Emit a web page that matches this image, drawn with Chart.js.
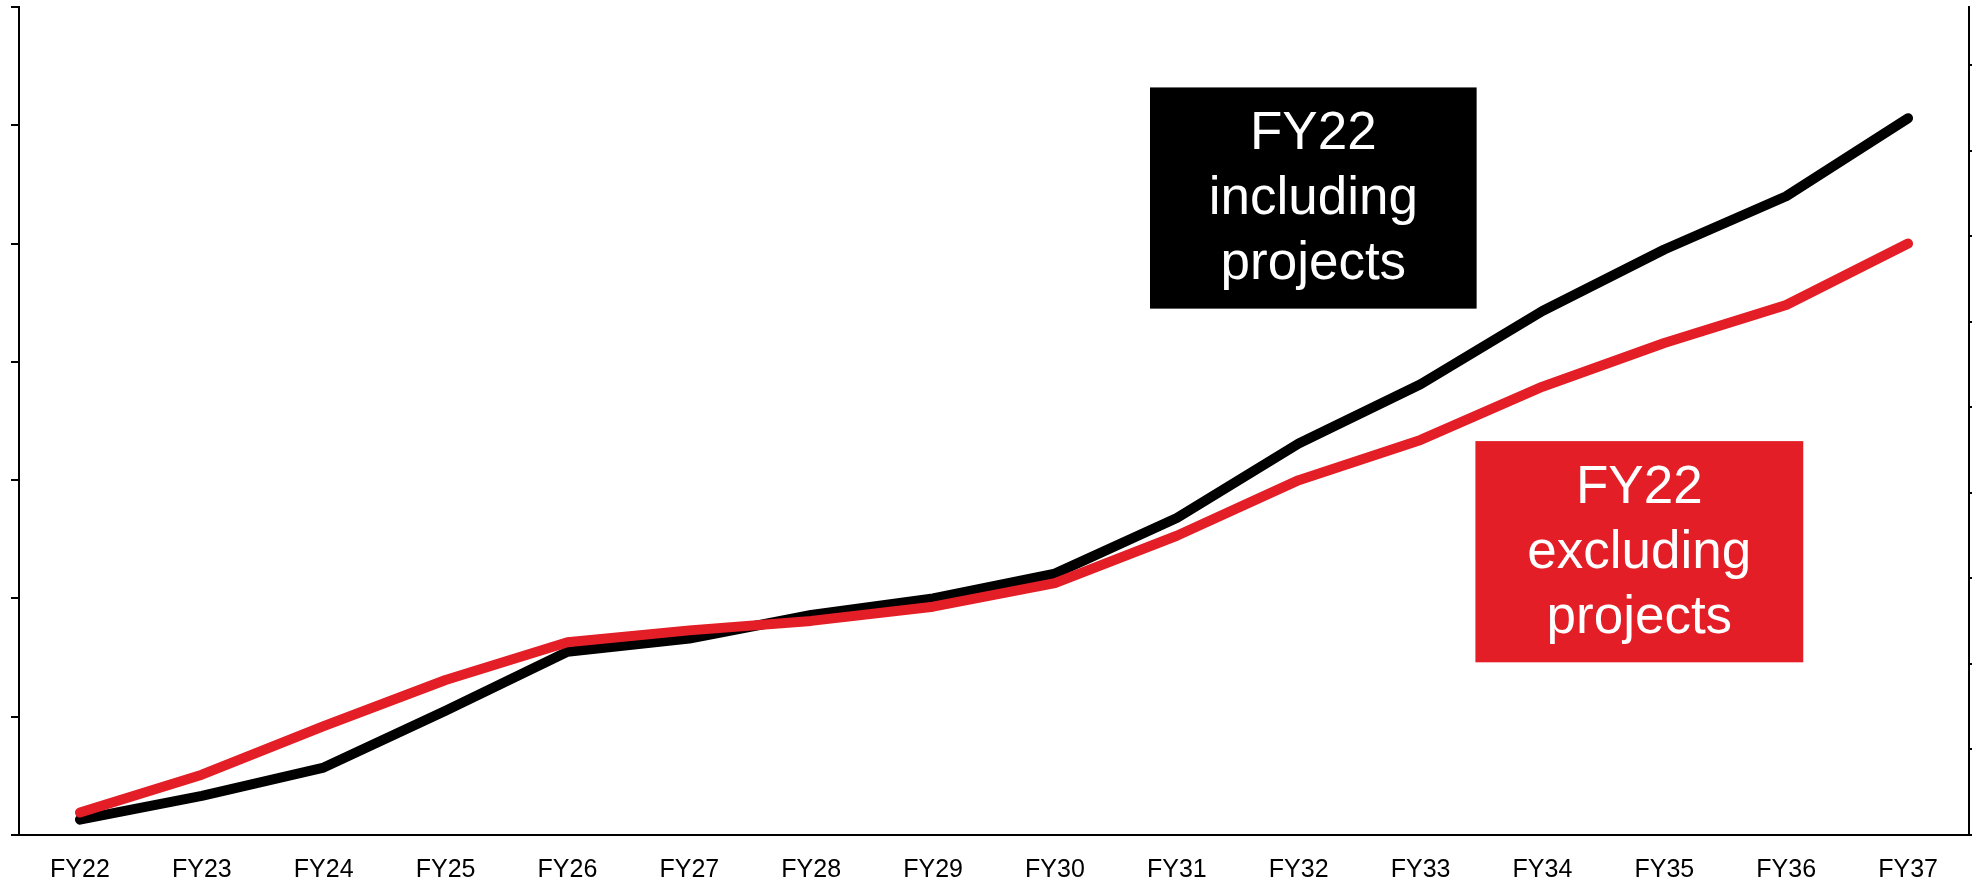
<!DOCTYPE html>
<html>
<head>
<meta charset="utf-8">
<script src="https://cdn.jsdelivr.net/npm/chart.js@4"></script>
<style>
  html, body { margin: 0; padding: 0; background: #fff; overflow: hidden; }
  #wrap { width: 1972px; height: 880px; position: relative; }
</style>
</head>
<body>
<div id="wrap"><canvas id="chart"></canvas></div>
<script>
// data (left axis units, one tick = 1)
const years = ["FY22", "FY23", "FY24", "FY25", "FY26", "FY27", "FY28", "FY29",
  "FY30", "FY31", "FY32", "FY33", "FY34", "FY35", "FY36", "FY37"];
const inclProjects = [0.13, 0.33, 0.57, 1.05, 1.55, 1.66, 1.86, 2.0,
  2.21, 2.68, 3.31, 3.81, 4.43, 4.95, 5.40, 6.06];
const exclProjects = [0.19, 0.51, 0.92, 1.31, 1.63, 1.73, 1.81, 1.93,
  2.13, 2.53, 3.0, 3.34, 3.79, 4.16, 4.48, 5.0];

// label boxes, placed in data units (x = category index, y = left axis)
const boxTexts = [["FY22", "including", "projects"], ["FY22", "excluding", "projects"]];
const boxColors = ["#000000", "#e31e26"];
const boxX = [[8.78, 11.46], [11.45, 14.14]];
const boxY = [[6.32, 4.45], [3.33, 1.46]];

const RED = "#e31e26";
const FONT = '"Liberation Sans", Arial, sans-serif';

// draws the two coloured text boxes
const boxPlugin = {
  id: "boxes",
  afterDraw(chart) {
    const c = chart.ctx;
    const xs = chart.scales.x, ys = chart.scales.y;
    boxTexts.forEach((lines, i) => {
      const x1 = xs.getPixelForValue(boxX[i][0]);
      const x2 = xs.getPixelForValue(boxX[i][1]);
      const y1 = ys.getPixelForValue(boxY[i][0]);
      const y2 = ys.getPixelForValue(boxY[i][1]);
      c.save();
      c.fillStyle = boxColors[i];
      c.fillRect(x1, y1, x2 - x1, y2 - y1);
      c.fillStyle = "#fff";
      c.font = "53px " + FONT;
      c.textAlign = "center";
      c.textBaseline = "alphabetic";
      const cx = (x1 + x2) / 2, cy = (y1 + y2) / 2;
      lines.forEach((t, j) => {
        c.fillText(t, cx, cy + (j - 1) * 65 + 16);
      });
      c.restore();
    });
  }
};

const yAxisBase = {
  grid: { drawOnChartArea: false, drawTicks: true, tickLength: 8, color: "#000", lineWidth: 2 },
  border: { display: true, color: "#000", width: 2 },
  ticks: { display: false, stepSize: 1 }
};

new Chart(document.getElementById("chart"), {
  type: "line",
  data: {
    labels: years,
    datasets: [
      {
        label: "FY22 including projects",
        data: inclProjects,
        borderColor: "#000",
        borderWidth: 10,
        order: 2
      },
      {
        label: "FY22 excluding projects",
        data: exclProjects,
        borderColor: RED,
        borderWidth: 10,
        order: 1
      }
    ]
  },
  options: {
    responsive: true,
    maintainAspectRatio: false,
    animation: false,
    layout: { padding: { top: 7, left: 0, right: 0, bottom: 0 } },
    elements: {
      point: { radius: 0, hoverRadius: 0 },
      line: { tension: 0, borderCapStyle: "round", borderJoinStyle: "round", fill: false }
    },
    plugins: {
      legend: { display: false },
      tooltip: { enabled: false },
      title: { display: false }
    },
    scales: {
      x: {
        offset: true,
        grid: { display: false, drawTicks: false },
        border: { display: true, color: "#000", width: 2 },
        ticks: { color: "#000", font: { size: 25, family: FONT }, padding: 20, maxRotation: 0, autoSkip: false },
        afterFit(scale) { scale.height = 45; }
      },
      y: Object.assign({}, yAxisBase, {
        position: "left",
        min: 0,
        max: 7,
        afterFit(scale) { scale.width = 19; }
      }),
      y1: Object.assign({}, yAxisBase, {
        position: "right",
        min: 0,
        max: 9.68,
        ticks: { display: false, stepSize: 1, includeBounds: false },
        afterFit(scale) { scale.width = 3; }
      })
    }
  },
  plugins: [boxPlugin]
});
</script>
</body>
</html>
